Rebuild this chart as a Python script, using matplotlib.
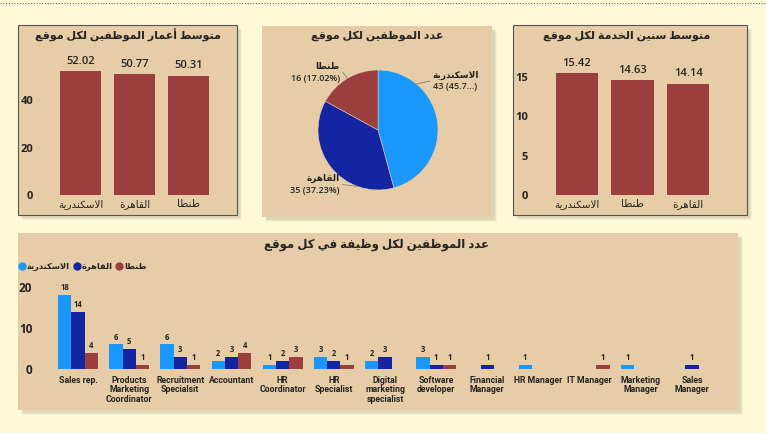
import matplotlib
matplotlib.use("Agg")
import matplotlib.pyplot as plt
from matplotlib.patches import Rectangle
from matplotlib.lines import Line2D
import numpy as np

plt.rcParams["font.family"] = ["Open Sans", "DejaVu Sans"]

# ---- data ----
cities_age = ["الاسكندرية", "القاهرة", "طنطا"]
avg_age = [52.02, 50.77, 50.31]

cities_service = ["الاسكندرية", "طنطا", "القاهرة"]
avg_service = [15.42, 14.63, 14.14]

pie_cities = ["الاسكندرية", "القاهرة", "طنطا"]
pie_counts = [43, 35, 16]
pie_pct_text = ["45.7...", "37.23%", "17.02%"]

jobs = ["Sales rep.", "Products\nMarketing\nCoordinator", "Recruitment\nSpecialsit",
        "Accountant", "HR\nCoordinator", "HR\nSpecialist", "Digital\nmarketing\nspecialist",
        "Software\ndeveloper", "Financial\nManager", "HR Manager", "IT Manager",
        "Marketing\nManager", "Sales\nManager"]
alex_jobs = [18, 6, 6, 2, 1, 3, 2, 3, 0, 1, 0, 1, 0]
cairo_jobs = [14, 5, 3, 3, 2, 2, 3, 1, 1, 0, 0, 0, 1]
tanta_jobs = [4, 1, 1, 4, 3, 1, 0, 1, 0, 0, 1, 0, 0]

title_age = "متوسط أعمار الموظفين لكل موقع"
title_pie = "عدد الموظفين لكل موقع"
title_service = "متوسط سنين الخدمة لكل موقع"
title_jobs = "عدد الموظفين لكل وظيفة في كل موقع"

# colours
BG = "#fefad8"
PANEL = "#e6cda7"
BAR_RED = "#9a3e3e"
LBLUE = "#1a97fb"
DBLUE = "#1524a0"
TXT = "#252423"

# ---- crude arabic shaping (matplotlib has no bidi / joining) ----
TWO = {0x0622: 0xFE81, 0x0623: 0xFE83, 0x0624: 0xFE85, 0x0625: 0xFE87, 0x0627: 0xFE8D,
       0x0629: 0xFE93, 0x062F: 0xFEA9, 0x0630: 0xFEAB, 0x0631: 0xFEAD, 0x0632: 0xFEAF,
       0x0648: 0xFEED, 0x0649: 0xFEEF}
FOUR = {0x0626: 0xFE89, 0x0628: 0xFE8F, 0x062A: 0xFE95, 0x062B: 0xFE99, 0x062C: 0xFE9D,
        0x062D: 0xFEA1, 0x062E: 0xFEA5, 0x0633: 0xFEB1, 0x0634: 0xFEB5, 0x0635: 0xFEB9,
        0x0636: 0xFEBD, 0x0637: 0xFEC1, 0x0638: 0xFEC5, 0x0639: 0xFEC9, 0x063A: 0xFECD,
        0x0641: 0xFED1, 0x0642: 0xFED5, 0x0643: 0xFED9, 0x0644: 0xFEDD, 0x0645: 0xFEE1,
        0x0646: 0xFEE5, 0x0647: 0xFEE9, 0x064A: 0xFEF1}
LAM_ALEF = {0x0622: 0xFEF5, 0x0623: 0xFEF7, 0x0625: 0xFEF9, 0x0627: 0xFEFB}


def ar(text):
    codes = [ord(c) for c in text]
    toks = []
    i = 0
    while i < len(codes):
        c = codes[i]
        if c == 0x0644 and i + 1 < len(codes) and codes[i + 1] in LAM_ALEF:
            toks.append(("lig", codes[i + 1]))
            i += 2
        else:
            toks.append(("ch", c))
            i += 1

    def is_ar(t):
        return t[0] == "lig" or t[1] in TWO or t[1] in FOUR

    def joins_left(t):
        return t[0] == "ch" and t[1] in FOUR

    out = []
    for k, t in enumerate(toks):
        prev = toks[k - 1] if k > 0 else None
        nxt = toks[k + 1] if k + 1 < len(toks) else None
        jp = prev is not None and joins_left(prev) and is_ar(t)
        jn = joins_left(t) and nxt is not None and is_ar(nxt)
        if t[0] == "lig":
            out.append(chr(LAM_ALEF[t[1]] + (1 if jp else 0)))
        elif t[1] in FOUR:
            base = FOUR[t[1]]
            off = 3 if (jp and jn) else 1 if jp else 2 if jn else 0
            out.append(chr(base + off))
        elif t[1] in TWO:
            out.append(chr(TWO[t[1]] + (1 if jp else 0)))
        else:
            out.append(chr(t[1]))
    return "".join(out)[::-1]


# ---- figure ----
W, H = 766, 433
fig = plt.figure(figsize=(W / 100, H / 100), dpi=100)
fig.patch.set_facecolor(BG)


def add_ax(x0, y0, x1, y1):
    a = fig.add_axes([x0 / W, 1 - y1 / H, (x1 - x0) / W, (y1 - y0) / H])
    a.set_zorder(5)
    return a


def panel(x0, y0, x1, y1, border=True):
    for d, a in [(5, 0.05), (4, 0.07), (3, 0.09)]:
        fig.patches.append(Rectangle(((x0 + d) / W, 1 - (y1 + d) / H), (x1 - x0) / W,
                                     (y1 - y0) / H, transform=fig.transFigure,
                                     facecolor=(0.35, 0.33, 0.2, a), edgecolor="none", zorder=-3))
    fig.patches.append(Rectangle((x0 / W, 1 - y1 / H), (x1 - x0) / W, (y1 - y0) / H,
                                 transform=fig.transFigure, facecolor=PANEL,
                                 edgecolor="#555555" if border else "none",
                                 linewidth=0.8, zorder=-2))


def ftext(px, py, s, **kw):
    fig.text(px / W, 1 - py / H, s, **kw)


# dotted top line
fig.lines.append(Line2D([0, 1], [1 - 3 / H, 1 - 3 / H], transform=fig.transFigure,
                        color="#666666", linestyle=(0, (1, 1.5)), linewidth=0.8))

panel(18, 25, 237, 215)
panel(262, 26, 492, 217, border=False)
panel(513, 25, 747, 215)
panel(18, 233, 738, 410, border=False)


def style_bar_ax(ax, pad, size=8):
    ax.set_facecolor("none")
    for s in ax.spines.values():
        s.set_visible(False)
    ax.tick_params(axis="both", length=0, colors=TXT)
    ax.tick_params(axis="y", pad=pad, labelsize=size)
    for lab in ax.get_yticklabels():
        lab.set_fontweight("bold")


# -- average age --
ax1 = add_ax(53.5, 57.3, 215.5, 195)
x = np.arange(len(cities_age))
bars = ax1.bar(x, avg_age, width=0.76, color=BAR_RED)
ax1.set_xlim(-0.5, 2.5)
ax1.set_ylim(0, 58)
ax1.set_yticks([0, 20, 40])
ax1.set_xticks(x, [ar(c) for c in cities_age], fontsize=7.5)
ax1.tick_params(axis="x", pad=3)
ax1.bar_label(bars, labels=[f"{v:.2f}" for v in avg_age], padding=3, fontsize=8,
              color=TXT, fontweight="semibold")
style_bar_ax(ax1, 14.5)
ftext(128, 36, ar(title_age), ha="center", va="center", fontsize=8,
      fontweight="bold", color=TXT)

# -- average service --
ax3 = add_ax(549, 61, 716, 195)
x = np.arange(len(cities_service))
bars = ax3.bar(x, avg_service, width=0.76, color=BAR_RED)
ax3.set_xlim(-0.5, 2.5)
ax3.set_ylim(0, 17)
ax3.set_yticks([0, 5, 10, 15])
ax3.set_xticks(x, [ar(c) for c in cities_service], fontsize=7.5)
ax3.tick_params(axis="x", pad=3)
ax3.bar_label(bars, labels=[f"{v:.2f}" for v in avg_service], padding=3, fontsize=8,
              color=TXT, fontweight="semibold")
style_bar_ax(ax3, 15)
ftext(627, 36, ar(title_service), ha="center", va="center", fontsize=8,
      fontweight="bold", color=TXT)

# -- pie --
axp = add_ax(378 - 150, 130 - 90, 378 + 150, 130 + 90)
wedges, _ = axp.pie(pie_counts, colors=[LBLUE, DBLUE, BAR_RED], startangle=90,
                    counterclock=False, radius=1.0,
                    wedgeprops=dict(edgecolor=PANEL, linewidth=0.4))
axp.set_xlim(-2.5, 2.5)
axp.set_ylim(-1.5, 1.5)
axp.set_aspect("equal")
axp.axis("off")

label_angles = [50, -110, 120.6]
label_offsets = [(0.22, 0.05), (-0.25, 0.03), (-0.08, 0.10)]
for k in range(len(pie_counts)):
    a = np.deg2rad(label_angles[k])
    ex, ey = np.cos(a), np.sin(a)
    dx, dy = label_offsets[k]
    tx, ty = ex + dx, ey + dy
    axp.plot([ex, tx], [ey, ty], color="#8a8070", linewidth=0.6)
    ha = "left" if dx > 0 else "right"
    gap = 0.05 if dx > 0 else -0.05
    txt = ar(pie_cities[k]) + "\n" + f"{pie_counts[k]} ({pie_pct_text[k]})"
    axp.text(tx + gap, ty, txt, ha=ha, va="center", fontsize=6.5, color=TXT,
             linespacing=1.35, fontweight="semibold")
ftext(377, 36, ar(title_pie), ha="center", va="center", fontsize=8,
      fontweight="bold", color=TXT)

# -- jobs clustered bars --
axb = add_ax(52.4, 278.8, 717.6, 369)
xj = np.arange(len(jobs))
bw = 0.26
series = [(alex_jobs, LBLUE, cities_age[0]), (cairo_jobs, DBLUE, cities_age[1]),
          (tanta_jobs, BAR_RED, cities_age[2])]
for s, (vals, col, name) in enumerate(series):
    b = axb.bar(xj + (s - 1) * bw, vals, width=bw, color=col, label=ar(name))
    axb.bar_label(b, labels=[str(v) if v > 0 else "" for v in vals], padding=2,
                  fontsize=5.5, color=TXT, fontweight="bold")
axb.set_xlim(-0.5, len(jobs) - 0.5)
axb.set_ylim(0, 22)
axb.set_yticks([0, 10, 20])
axb.set_xticks(xj, jobs, fontsize=6.3, fontweight="bold", linespacing=1.05,
               family=["Roboto", "DejaVu Sans"])
axb.tick_params(axis="x", pad=5)
style_bar_ax(axb, 14.5, 8.5)

leg = axb.legend(loc="upper left", bbox_to_anchor=(19 / W, 1 - 262 / H),
                 bbox_transform=fig.transFigure, ncol=3, frameon=False, fontsize=6,
                 handlelength=0.7, handleheight=0.7, handletextpad=0.2,
                 columnspacing=0.5, borderpad=0, borderaxespad=0)
for h in leg.legend_handles:
    h.set_visible(False)
for t in leg.get_texts():
    t.set_color(TXT)
    t.set_fontweight("bold")
# round legend markers drawn over the square handles
fig.canvas.draw()
for h, (_, col, _) in zip(leg.legend_handles, series):
    bb = h.get_window_extent()
    cx, cy = (bb.x0 + bb.x1) / 2, (bb.y0 + bb.y1) / 2
    fig.lines.append(Line2D([cx / fig.dpi / fig.get_figwidth()],
                            [cy / fig.dpi / fig.get_figheight()],
                            transform=fig.transFigure, marker="o", markersize=5,
                            color=col, linestyle="none", zorder=6))

ftext(377, 244, ar(title_jobs), ha="center", va="center", fontsize=8.5,
      fontweight="bold", color=TXT)

fig.savefig("out.png", dpi=100, facecolor=BG)
